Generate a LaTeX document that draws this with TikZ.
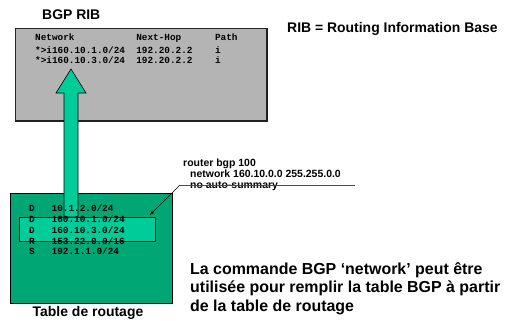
\documentclass[tikz,border=0pt]{standalone}
\usepackage{fontspec}
\setmainfont{Liberation Sans}
\setmonofont{Liberation Mono}
\usepackage{tikz}

\definecolor{ribgray}{HTML}{B4B4B4}
\definecolor{rtgreen}{HTML}{00A673}
\definecolor{selgreen}{HTML}{00CC99}

\begin{document}
\begin{tikzpicture}[
  x = 1bp, y = -1bp,
  heading/.style = {font = \bfseries\fontsize{14}{16}\selectfont, inner sep = 0},
  code/.style = {font = \ttfamily\bfseries\fontsize{9.4}{10}\selectfont, inner sep = 0, anchor = base west},
  cli/.style = {font = \bfseries\fontsize{10.5}{11}\selectfont, inner sep = 0, anchor = base west},
  note/.style = {font = \bfseries\fontsize{16}{18.5}\selectfont, inner sep = 0, anchor = base west},
  tablebox/.style = {draw, line width = 0.8bp, inner sep = 0, anchor = north west}
]

\useasboundingbox (0,0) rectangle (514,320);

\node[tablebox, fill = ribgray, draw = gray!30!black, minimum width = 251bp, minimum height = 92bp] (rib) at (15,28) {};
\draw[gray!25!black, line width = 1.6bp] (rib.north east) -- (rib.south east) -- (rib.south west);
\node[tablebox, fill = rtgreen, minimum width = 162bp, minimum height = 110bp] (rt) at (10,193) {};
\node[tablebox, fill = selgreen, minimum width = 136bp, minimum height = 24bp] (sel) at (19,217) {};

\filldraw[fill = selgreen, draw = black, line width = 0.6bp]
  (64,217) -- (64,93) -- (56,93) -- (71,69) -- (86,93) -- (78,93) -- (78,217) -- cycle;

\node[heading, anchor = base west] (ribtitle) at (42,19) {BGP RIB};
\node[heading, anchor = base west] (ribdef) at (287,32.7) {RIB = Routing Information Base};
\node[heading, anchor = base] (rttitle) at (88,316.7) {Table de routage};

\node[code] (hdr) at (35,40.7) {Network~~~~~~~~~~~Next-Hop~~~~~~Path};
\node[code] (best1) at (35,53.3) {*>i160.10.1.0/24~~192.20.2.2~~~~i};
\node[code] (best2) at (35,63.3) {*>i160.10.3.0/24~~192.20.2.2~~~~i};

\node[code] (r1) at (29,211.7) {D~~~10.1.2.0/24};
\node[code] (r2) at (29,222.7) {D~~~160.10.1.0/24};
\node[code] (r3) at (29,233.3) {D~~~160.10.3.0/24};
\node[code] (r4) at (29,244) {R~~~153.22.0.0/16};
\node[code] (r5) at (29,254.5) {S~~~192.1.1.0/24};

\node[cli] (cmd1) at (183,166) {router bgp 100};
\node[cli] (cmd2) at (190,177.3) {network 160.10.0.0 255.255.0.0};
\node[cli] (cmd3) at (190,188) {no auto-summary};

\coordinate (hook) at (180,185);
\coordinate (rule) at (355,185);
\draw[gray!60!black, line width = 0.6bp] (rule) -- (hook);
\draw[-latex, line width = 0.5bp] (hook) -- ([xshift = -6bp, yshift = 2bp]sel.north east);

\node[note] (note1) at (190,274) {La commande BGP `network' peut être};
\node[note] (note2) at (190,292.5) {utilisée pour remplir la table BGP à partir};
\node[note] (note3) at (190,311) {de la table de routage};

\end{tikzpicture}
\end{document}
